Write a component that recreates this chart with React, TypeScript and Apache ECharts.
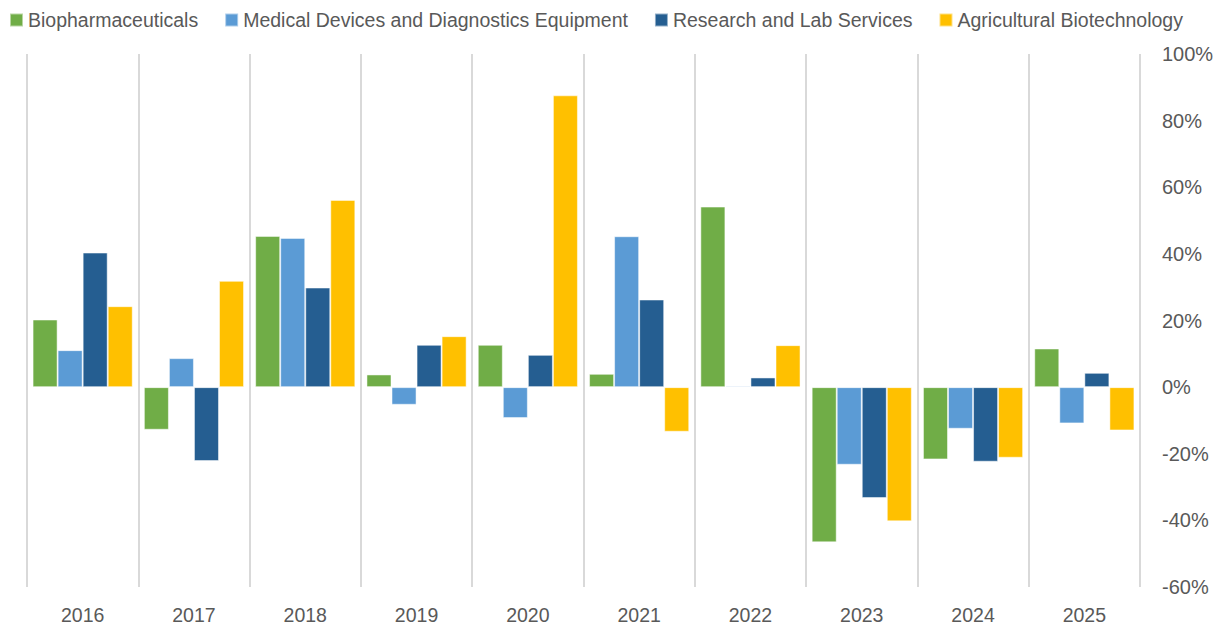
import React, { useEffect, useRef } from "react";
import * as echarts from "echarts";

const years = ["2016", "2017", "2018", "2019", "2020", "2021", "2022", "2023", "2024", "2025"];
const seriesNames = [
  "Biopharmaceuticals",
  "Medical Devices and Diagnostics Equipment",
  "Research and Lab Services",
  "Agricultural Biotechnology",
];
const biopharma = [20.3, -12.8, 45.4, 3.8, 12.7, 4.0, 54.2, -46.6, -21.7, 11.6];
const medDevices = [11.1, 8.7, 44.8, -5.3, -9.3, 45.3, 0.4, -23.3, -12.5, -10.9];
const researchLab = [40.4, -22.2, 29.9, 12.7, 9.7, 26.3, 2.9, -33.3, -22.4, 4.3];
const agriBio = [24.3, 31.9, 56.2, 15.3, 87.6, -13.4, 12.6, -40.3, -21.2, -13.0];
const colors = ["#70AD47", "#5B9BD5", "#255E91", "#FFC000"];

const FONT = "'Liberation Sans', Arial, sans-serif";

export default function App() {
  const ref = useRef<HTMLDivElement>(null);
  useEffect(() => {
    if (!ref.current) return;
    const chart = echarts.init(ref.current, undefined, { renderer: "svg" });
    const data = [biopharma, medDevices, researchLab, agriBio];
    chart.setOption({
      animation: false,
      textStyle: { fontFamily: FONT },
      legend: {
        top: 10,
        left: 9,
        padding: 0,
        itemWidth: 13,
        itemHeight: 13,
        itemGap: 26,
        icon: "rect",
        textStyle: { fontFamily: FONT, fontSize: 19.5, color: "#595959" },
        data: seriesNames,
      },
      grid: { left: 27, right: 78, top: 54, bottom: 44, containLabel: false },
      xAxis: {
        type: "category",
        data: years,
        axisLine: { show: false },
        axisTick: { show: false },
        axisLabel: { fontFamily: FONT, fontSize: 19.5, color: "#595959", margin: 18 },
        splitLine: { show: true, interval: 0, lineStyle: { color: "#d9d9d9", width: 2 } },
      },
      yAxis: {
        type: "value",
        position: "right",
        min: -60,
        max: 100,
        interval: 20,
        axisLine: { show: false },
        axisTick: { show: false },
        splitLine: { show: false },
        axisLabel: {
          formatter: "{value}%",
          fontFamily: FONT,
          fontSize: 20,
          color: "#595959",
          margin: 22,
        },
      },
      series: seriesNames.map((name, i) => ({
        name,
        type: "bar",
        data: data[i],
        barGap: "0%",
        barCategoryGap: "10%",
        itemStyle: { color: colors[i], borderColor: "rgba(255,255,255,0.5)", borderWidth: 1 },
      })),
    });
    return () => chart.dispose();
  }, []);
  return (
    <div
      ref={ref}
      style={{ position: "absolute", left: 0, top: 0, width: 1218, height: 631 }}
    />
  );
}
